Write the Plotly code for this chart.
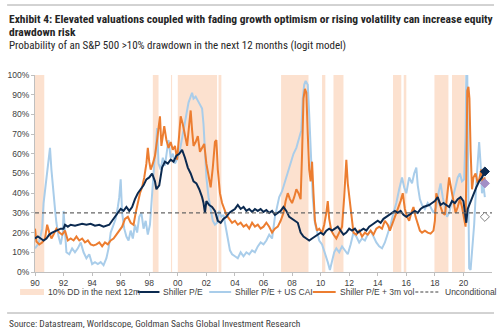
import plotly.graph_objects as go

# ---------------- data ----------------
pe_x = [1990.0,1990.2,1990.4,1990.6,1990.8,1991.0,1991.2,1991.5,1991.8,1992.0,1992.1,1992.3,1992.5,1992.8,1993.0,1993.3,1993.6,1993.9,1994.2,1994.5,1994.8,1995.0,1995.2,1995.4,1995.6,1995.8,1996.0,1996.2,1996.4,1996.6,1996.8,1997.0,1997.2,1997.4,1997.6,1997.8,1998.0,1998.2,1998.4,1998.5,1998.7,1998.9,1999.1,1999.3,1999.5,1999.7,1999.9,2000.1,2000.3,2000.5,2000.7,2000.9,2001.1,2001.3,2001.5,2001.7,2001.8,2001.9,2002.0,2002.2,2002.4,2002.6,2002.8,2003.0,2003.2,2003.4,2003.6,2003.8,2004.0,2004.2,2004.4,2004.6,2004.8,2005.0,2005.2,2005.4,2005.6,2005.8,2006.0,2006.2,2006.4,2006.6,2006.8,2007.0,2007.2,2007.4,2007.6,2007.8,2008.0,2008.2,2008.4,2008.6,2008.8,2009.0,2009.2,2009.4,2009.6,2009.8,2010.0,2010.2,2010.4,2010.6,2010.8,2011.0,2011.2,2011.4,2011.6,2011.8,2012.0,2012.2,2012.4,2012.6,2012.8,2013.0,2013.2,2013.4,2013.6,2013.8,2014.0,2014.2,2014.4,2014.6,2014.8,2015.0,2015.2,2015.4,2015.6,2015.8,2016.0,2016.2,2016.4,2016.6,2016.8,2017.0,2017.2,2017.4,2017.6,2017.8,2018.0,2018.2,2018.4,2018.6,2018.8,2019.0,2019.2,2019.4,2019.6,2019.8,2020.0,2020.1,2020.2,2020.3,2020.5,2020.7,2020.9,2021.1,2021.3,2021.5]
pe_y = [17,18,17,16,17,19,20,21,22,22,24,23,24,23.5,24,24.5,24,24.5,23.5,24,23,23.5,24,26,28,30,32,31,33,31,33,37,40,42,44,47,48,50,46,42,44,53,56,55,57,56,59,60,62,58,53,50,46,45,42,38,35,30,36,34,33,31,26,25,27,28,30,31,32,34,32,33,31,32,30.5,32,31,32,30.5,31.5,30,31,29,30,31,33,31,28,27,26,25,20,18,17,16,17,18,19,20,19,21,22,21,22,23,21,19,20,22,21,22,20,21,22,21,23,24,25,26,25,27,28,29,30,31,30,31,29,28,29,30,31,30,32,33,33.5,34,35,36,38,34,35,34,33,36,35,37,38,36,30,25,32,36,40,43,46,48,51]

cai_x = [1990.0,1990.2,1990.35,1990.5,1990.6,1990.7,1990.85,1990.95,1991.05,1991.15,1991.3,1991.4,1991.5,1991.65,1991.8,1991.95,1992.0,1992.1,1992.2,1992.4,1992.6,1992.8,1993.0,1993.2,1993.4,1993.6,1993.8,1994.0,1994.2,1994.4,1994.6,1994.8,1995.0,1995.15,1995.3,1995.5,1995.65,1995.8,1995.9,1996.0,1996.1,1996.25,1996.4,1996.55,1996.7,1996.85,1997.0,1997.15,1997.3,1997.45,1997.6,1997.75,1997.9,1998.05,1998.2,1998.35,1998.45,1998.55,1998.65,1998.8,1998.95,1999.1,1999.25,1999.35,1999.5,1999.65,1999.8,2000.0,2000.15,2000.3,2000.45,2000.6,2000.75,2000.9,2001.0,2001.1,2001.25,2001.4,2001.55,2001.7,2001.8,2001.9,2002.0,2002.15,2002.3,2002.45,2002.6,2002.75,2002.9,2003.05,2003.2,2003.35,2003.5,2003.65,2003.8,2004.0,2004.2,2004.4,2004.6,2004.8,2005.0,2005.2,2005.4,2005.6,2005.8,2006.0,2006.2,2006.4,2006.6,2006.8,2006.95,2007.1,2007.3,2007.5,2007.7,2007.9,2008.1,2008.3,2008.5,2008.65,2008.75,2008.85,2008.95,2009.1,2009.2,2009.3,2009.45,2009.6,2009.75,2009.9,2010.1,2010.3,2010.5,2010.65,2010.8,2010.95,2011.1,2011.3,2011.5,2011.7,2011.9,2012.1,2012.3,2012.5,2012.7,2012.9,2013.1,2013.3,2013.5,2013.7,2013.9,2014.1,2014.3,2014.5,2014.7,2014.9,2015.1,2015.3,2015.5,2015.7,2015.85,2016.0,2016.2,2016.4,2016.55,2016.7,2016.8,2016.95,2017.1,2017.3,2017.5,2017.7,2017.9,2018.1,2018.25,2018.4,2018.55,2018.7,2018.85,2019.0,2019.2,2019.4,2019.6,2019.75,2019.9,2020.05,2020.15,2020.2,2020.27,2020.33,2020.4,2020.5,2020.6,2020.75,2020.9,2021.0,2021.1,2021.2,2021.3,2021.4,2021.5]
cai_y = [12,14,17,22,35,41,50,55,63,52,42,32,25,18,14,20,31,18,10,9,12,10,12,15,10,7,9,4,5,4,5,3.5,7,12,20,24,27,33,38,47,30,22,18,16,21,17,24,20,28,30,22,26,19,24,42,55,62,73,55,52,58,54,62,67,58,60,55,58,62,68,74,80,86,89,91,88,89,87,85,83,75,57,48,38,32,26,24,25,31,28,29,22,17,11,9,8,7,10,8,10,9,11,10,13,15,14,16,19,17,28,34,38,41,46,51,55,60,63,68,72,88,95,97,95,80,60,38,25,20,16,14,10,5,1,6,10,12,10,13,11,9,14,20,18,15,17,16,19,21,18,15,13,12,15,19,24,30,35,42,48,43,40,48,45,50,53,44,37,34,32,35,33,30,33,40,45,38,32,28,30,36,42,48,50,46,47,70,100,100,50,2,1,10,24,45,55,66,55,40,44,38]

vol_x = [1990.0,1990.1,1990.3,1990.5,1990.7,1990.85,1991.0,1991.15,1991.3,1991.5,1991.7,1991.9,1992.1,1992.3,1992.5,1992.7,1992.9,1993.1,1993.3,1993.5,1993.7,1993.9,1994.1,1994.3,1994.5,1994.7,1994.9,1995.1,1995.3,1995.5,1995.7,1995.9,1996.1,1996.3,1996.5,1996.7,1996.9,1997.05,1997.2,1997.35,1997.5,1997.65,1997.8,1997.9,1998.0,1998.1,1998.25,1998.4,1998.55,1998.65,1998.75,1998.85,1998.95,1999.05,1999.2,1999.35,1999.5,1999.65,1999.8,1999.95,2000.1,2000.2,2000.35,2000.5,2000.65,2000.8,2000.9,2001.0,2001.1,2001.25,2001.4,2001.55,2001.7,2001.85,2002.0,2002.15,2002.3,2002.45,2002.6,2002.7,2002.8,2002.95,2003.1,2003.25,2003.4,2003.6,2003.8,2004.0,2004.2,2004.4,2004.6,2004.8,2005.0,2005.2,2005.4,2005.6,2005.8,2006.0,2006.2,2006.4,2006.6,2006.8,2007.0,2007.2,2007.4,2007.55,2007.7,2007.85,2008.0,2008.15,2008.3,2008.45,2008.6,2008.7,2008.8,2008.9,2009.0,2009.1,2009.2,2009.3,2009.4,2009.5,2009.6,2009.75,2009.9,2010.1,2010.25,2010.4,2010.5,2010.6,2010.75,2010.9,2011.1,2011.3,2011.5,2011.65,2011.75,2011.8,2011.9,2012.0,2012.15,2012.3,2012.5,2012.7,2012.9,2013.1,2013.3,2013.5,2013.7,2013.9,2014.1,2014.3,2014.5,2014.7,2014.85,2015.0,2015.2,2015.4,2015.6,2015.75,2015.9,2016.05,2016.2,2016.35,2016.5,2016.65,2016.8,2016.95,2017.1,2017.3,2017.5,2017.7,2017.9,2018.0,2018.1,2018.25,2018.4,2018.55,2018.7,2018.85,2019.0,2019.15,2019.3,2019.45,2019.6,2019.75,2019.9,2020.05,2020.15,2020.22,2020.27,2020.35,2020.42,2020.5,2020.6,2020.7,2020.85,2021.0,2021.1,2021.25,2021.35,2021.5]
vol_y = [22,15.5,14,15,17,24,20,17,19,22,20,19,21,16,17,16,18,16,17,15,16,14,13.5,14,15,13,15,14,16,17,19,21,23,27,28,25,24,30,36,40,43,48,55,63,56,52,55,59,67,72,79,64,70,74,67,63,66,62,64,57,70,79,75,70,64,75,82,72,64,66,69,61,63,65,55,48,43,53,66,67,52,40,35,32,29,27,25,26,24,25,23,24,22,25,23,24,22,23,25,23,20,22,23,26,30,36,40,37,35,38,42,40,37,60,88,93,91,70,52,46,56,40,26,21,22,20,24,30,36,27,21,19,17,20,23,38,55,57,45,38,28,20,19,21,18,20,19,21,19,22,23,22,26,24,21,24,28,31,36,40,32,28,26,30,33,28,24,21,20,21,20,19.5,21,26,40,36,33,30,29,38,48,42,36,30,33,37,33,28,23,60,92,94,88,62,42,48,50,45,47,52,45,48]

uncond_x = [1990, 2022]
uncond_y = [30, 30]

# latest readings (diamonds)
last_x = [2021.5, 2021.5, 2021.5]
last_y = [51, 45, 28]

# 10% drawdown in the next 12m periods (start, end)
dd_periods = [(1990.0, 1990.65), (1998.25, 1998.65), (1999.52, 1999.6), (2000.0, 2002.75),
              (2002.85, 2003.05), (2007.23, 2009.15), (2010.1, 2010.33), (2010.9, 2011.6),
              (2015.07, 2015.65), (2015.82, 2016.0), (2017.97, 2018.95), (2019.2, 2020.1)]

tick_vals = [1990, 1992, 1994, 1996, 1998, 2000, 2002, 2004, 2006, 2008, 2010, 2012, 2014, 2016, 2018, 2020]
tick_text = ["90", "92", "94", "96", "98", "00", "02", "04", "06", "08", "10", "12", "14", "16", "18", "20"]
y_ticks = [0, 10, 20, 30, 40, 50, 60, 70, 80, 90, 100]
y_text = [f"{v}%" for v in y_ticks]

legend_labels = ["10% DD in the next 12m", "Shiller P/E", "Shiller P/E + US CAI", "Shiller P/E + 3m vol", "Unconditional"]

# ---------------- style ----------------
NAVY = "#0b2a50"
LBLUE = "#a9cdea"
ORANGE = "#ec7d30"
BAND = "#fce1cf"
GREY = "#595959"
NARROW = "Liberation Sans Narrow, Arial Narrow, Roboto Condensed, sans-serif"
ARIAL = "Liberation Sans, Arial, sans-serif"

W, H = 500, 328
L, R, T, B = 33, 8, 75, 56
PW, PH = W - L - R, H - T - B

def px(xp):
    return (xp - L) / PW

def py(yp):
    return (H - B - yp) / PH

fig = go.Figure()

fig.add_trace(go.Scatter(x=cai_x, y=cai_y, mode="lines", line=dict(color=LBLUE, width=2), showlegend=False))
fig.add_trace(go.Scatter(x=vol_x, y=vol_y, mode="lines", line=dict(color=ORANGE, width=2), showlegend=False))
fig.add_trace(go.Scatter(x=pe_x, y=pe_y, mode="lines", line=dict(color=NAVY, width=2), showlegend=False))
fig.add_trace(go.Scatter(x=uncond_x, y=uncond_y, mode="lines", line=dict(color="#666666", width=1.2, dash="4px,3px"), showlegend=False))
fig.add_trace(go.Scatter(x=last_x, y=last_y, mode="markers",
                         marker=dict(symbol="diamond", size=7,
                                     color=[NAVY, "#a28ec6", "white"],
                                     line=dict(color=[NAVY, "#a28ec6", "#7f7f7f"], width=1)),
                         showlegend=False))

shapes = []
for s, e in dd_periods:
    shapes.append(dict(type="rect", xref="x", yref="paper", x0=s, x1=e, y0=0, y1=1,
                       fillcolor=BAND, line=dict(width=0), layer="below"))

# horizontal rules
shapes.append(dict(type="line", xref="paper", yref="paper", x0=px(5), x1=px(494), y0=py(5), y1=py(5),
                   line=dict(color="#a6a6a6", width=1)))
shapes.append(dict(type="line", xref="paper", yref="paper", x0=px(5), x1=px(494), y0=py(313), y1=py(313),
                   line=dict(color="#a6a6a6", width=1)))

annotations = []
# titles
annotations.append(dict(xref="paper", yref="paper", x=px(5), y=py(19), xanchor="left", yanchor="middle",
                        text="<b>Exhibit 4: Elevated valuations coupled with fading growth optimism or rising volatility can increase equity</b>",
                        showarrow=False, font=dict(family=NARROW, size=11.5, color="#262626")))
annotations.append(dict(xref="paper", yref="paper", x=px(5), y=py(32.5), xanchor="left", yanchor="middle",
                        text="<b>drawdown risk</b>", showarrow=False, font=dict(family=NARROW, size=11.5, color="#262626")))
annotations.append(dict(xref="paper", yref="paper", x=px(5), y=py(45), xanchor="left", yanchor="middle",
                        text="Probability of an S&P 500 >10% drawdown in the next 12 months (logit model)",
                        showarrow=False, font=dict(family=NARROW, size=11, color="#262626")))
annotations.append(dict(xref="paper", yref="paper", x=px(5), y=py(323), xanchor="left", yanchor="middle",
                        text="Source: Datastream, Worldscope, Goldman Sachs Global Investment Research",
                        showarrow=False, font=dict(family=NARROW, size=9.5, color="#404040")))

# legend (manual)
leg_y = py(292)
sym = [(18, 42), (136, 158), (208, 230), (312, 335), (415, 440)]
txt_x = [44, 160, 232, 337, 443]
styles = [None, dict(color=NAVY, width=2), dict(color=LBLUE, width=2), dict(color=ORANGE, width=2),
          dict(color="#404040", width=1.2, dash="3px,2px")]
for i, lab in enumerate(legend_labels):
    a, b = sym[i]
    if styles[i] is None:
        shapes.append(dict(type="rect", xref="paper", yref="paper", x0=px(a), x1=px(b),
                           y0=py(295), y1=py(289), fillcolor=BAND, line=dict(width=0)))
    else:
        shapes.append(dict(type="line", xref="paper", yref="paper", x0=px(a), x1=px(b),
                           y0=leg_y, y1=leg_y, line=styles[i]))
    annotations.append(dict(xref="paper", yref="paper", x=px(txt_x[i]), y=leg_y, xanchor="left", yanchor="middle",
                            text=lab, showarrow=False, font=dict(family=ARIAL, size=8.5, color="#404040")))

fig.update_layout(
    width=W, height=H,
    margin=dict(l=L, r=R, t=T, b=B),
    paper_bgcolor="white", plot_bgcolor="white",
    shapes=shapes, annotations=annotations,
    xaxis=dict(range=[1990, 2022], tickvals=tick_vals, ticktext=tick_text, showgrid=False, zeroline=False,
               showline=True, linecolor="#bfbfbf", linewidth=1, ticks="outside", ticklen=3, tickcolor="#bfbfbf",
               tickfont=dict(family=ARIAL, size=8.5, color="#404040")),
    yaxis=dict(range=[0, 100], tickvals=y_ticks, ticktext=y_text, showgrid=False, zeroline=False,
               showline=True, linecolor="#bfbfbf", linewidth=1, ticks="outside", ticklen=3, tickcolor="#bfbfbf",
               tickfont=dict(family=ARIAL, size=8.5, color="#404040")),
)

fig.write_html("out.html")
